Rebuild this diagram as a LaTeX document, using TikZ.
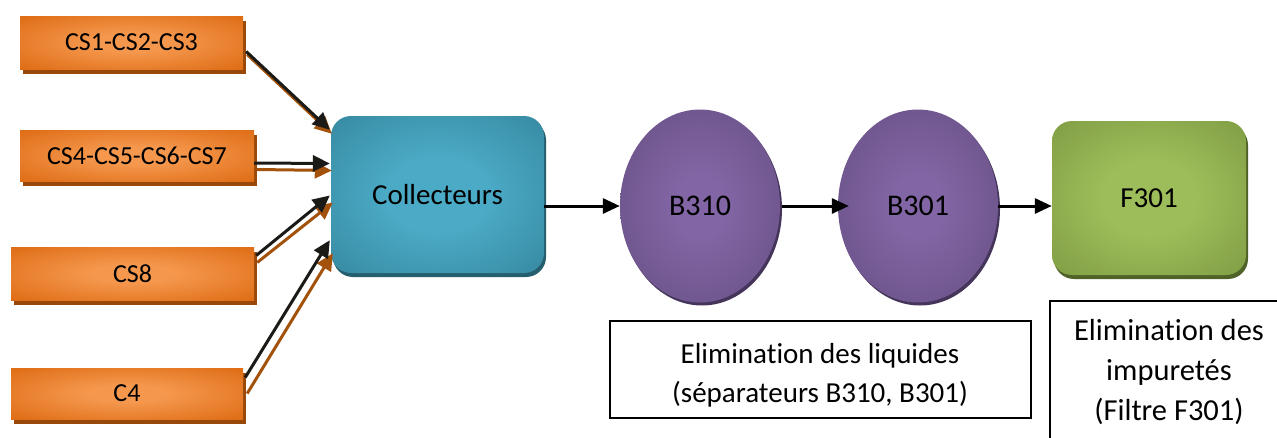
\documentclass[tikz,border=0pt]{standalone}
\usepackage{fontspec}
\setmainfont{Carlito}[Ligatures=NoCommon]
\usetikzlibrary{arrows.meta,shadows,calc,shapes.geometric}

% palette
\definecolor{orangeL}{HTML}{F5984E}
\definecolor{orangeD}{HTML}{DC680F}
\definecolor{orangeS}{HTML}{984808}
\definecolor{tealL}{HTML}{4BAAC6}
\definecolor{tealD}{HTML}{2F7E94}
\definecolor{tealS}{HTML}{245E6F}
\definecolor{purpL}{HTML}{8265A4}
\definecolor{purpD}{HTML}{5E4878}
\definecolor{purpS}{HTML}{45355B}
\definecolor{greenL}{HTML}{9DBD5A}
\definecolor{greenD}{HTML}{76923C}
\definecolor{greenS}{HTML}{4F6228}
\definecolor{arrowbrown}{HTML}{A3520C}
\definecolor{arrowblack}{HTML}{1B1A16}

% soft centre glow for every filled shape
\pgfdeclareradialshading{orangeglow}{\pgfpointorigin}{color(0bp)=(orangeL); color(8bp)=(orangeL); color(38bp)=(orangeD); color(50bp)=(orangeD)}
\pgfdeclareradialshading{tealglow}{\pgfpointorigin}{color(0bp)=(tealL); color(12bp)=(tealL); color(44bp)=(tealD); color(50bp)=(tealD)}
\pgfdeclareradialshading{purpglow}{\pgfpointorigin}{color(0bp)=(purpL); color(8bp)=(purpL); color(44bp)=(purpD); color(50bp)=(purpD)}
\pgfdeclareradialshading{greenglow}{\pgfpointorigin}{color(0bp)=(greenL); color(12bp)=(greenL); color(44bp)=(greenD); color(50bp)=(greenD)}

\tikzset{
  source/.style={rectangle, inner sep=0pt, shading=orangeglow,
    general shadow={fill=orangeS, shadow xshift=3pt, shadow yshift=-5pt},
    font=\fontsize{26}{31}\selectfont},
  collector/.style={rectangle, rounded corners=20pt, inner sep=0pt, shading=tealglow,
    general shadow={fill=tealS, shadow xshift=2pt, shadow yshift=-4pt},
    font=\fontsize{29}{35}\selectfont},
  separator/.style={ellipse, inner sep=0pt, shading=purpglow,
    minimum width=160pt, minimum height=193pt,
    general shadow={fill=purpS, shadow xshift=2pt, shadow yshift=-3pt},
    font=\fontsize{30}{35}\selectfont},
  filterbox/.style={rectangle, rounded corners=20pt, inner sep=0pt, shading=greenglow,
    general shadow={fill=greenS, shadow xshift=2pt, shadow yshift=-4pt},
    font=\fontsize{29}{35}\selectfont},
  frame/.style={draw=black, line width=1.3pt},
  note/.style={align=center, inner sep=0pt, font=\fontsize{29}{39}\selectfont},
  feed/.style={line width=3pt, draw=arrowblack, -{Triangle[length=17pt,width=16pt]}},
  feedshade/.style={line width=3pt, draw=arrowbrown, -{Triangle[length=17pt,width=16pt]}},
  flow/.style={line width=3pt, draw=black, -{Triangle[length=17pt,width=15pt]}},
}

\begin{document}
\begin{tikzpicture}[x=1pt, y=-1pt]
\useasboundingbox (0,0) rectangle (1277,437);

% incoming gas sources
\node[source, minimum width=223pt, minimum height=53pt] (cs1) at (131.5,42.5) {CS1-CS2-CS3};
\node[source, minimum width=234pt, minimum height=51pt] (cs4) at (137,155.5) {CS4-CS5-CS6-CS7};
\node[source, minimum width=243pt, minimum height=53pt] (cs8) at (132.5,273.5) {CS8};
\node[source, minimum width=232pt, minimum height=51pt] (c4) at (127,393.5) {C4};

% main line
\node[collector, minimum width=213pt, minimum height=157pt] (coll) at (437.5,194.5) {Collecteurs};
\node[separator] (b310) at (700,206) {B310};
\node[separator] (b301) at (918,206) {B301};
\node[filterbox, minimum width=194pt, minimum height=154pt] (f301) at (1149,198) {F301};

% feeds into the collectors (black line with a brown twin)
\draw[feedshade] ([shift={(4,12)}]cs1.east) -- ([shift={(1,18)}]coll.north west);
\draw[feed] ([shift={(3,9)}]cs1.east) -- ([shift={(-1,14)}]coll.north west);

\draw[feedshade] ([shift={(3,14)}]cs4.east) -- ([shift={(1,-24)}]coll.west);
\draw[feed] ([shift={(0,7.5)}]cs4.east) -- ([shift={(-1,-31)}]coll.west);

\draw[feedshade] ([shift={(3,-11)}]cs8.east) -- ([shift={(2,8)}]coll.west);
\draw[feed] ([shift={(2,-18)}]cs8.east) -- ([shift={(-1,1)}]coll.west);

\draw[feedshade] ([shift={(4,0)}]c4.east) -- ([shift={(2,-20)}]coll.south west);
\draw[feed] ([shift={(2,-16)}]c4.east) -- ([shift={(-1,-33)}]coll.south west);

% process flow
\draw[flow] (coll.east |- b310.west) -- (b310.west);
\draw[flow, shorten <=2pt, shorten >=-11pt] (b310.east) -- (b301.west);
\draw[flow] (b301.east) -- (b301.east -| f301.west);

% explanatory notes
\node[frame, minimum width=421pt, minimum height=97pt, inner sep=0pt] (liqbox) at (820.5,369.5) {};
\node[note] (liqtxt) at (820,375) {Elimination des liquides\\(séparateurs B310, B301)};
\coordinate (impfoot) at (1050,450);
\coordinate (impend) at (1290,301);
\draw[frame] (impfoot) |- (impend);
\node[note, font=\fontsize{30.5}{40}\selectfont] (imptxt) at (1169,372) {Elimination des\\impuretés\\(Filtre F301)};
\end{tikzpicture}
\end{document}
